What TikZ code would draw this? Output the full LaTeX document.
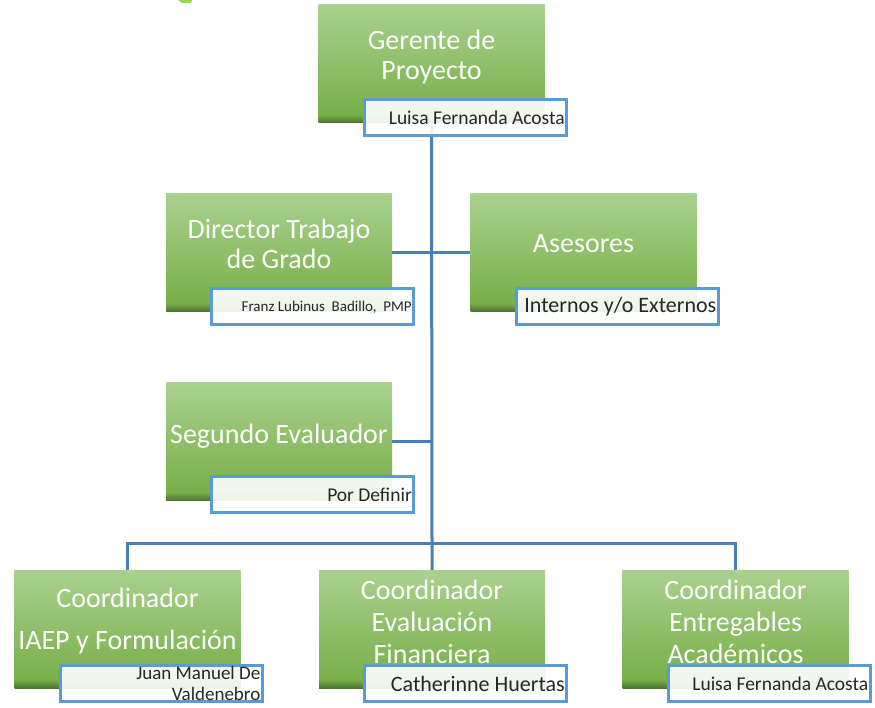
\documentclass[tikz,border=0pt]{standalone}
\usepackage{fontspec}
\setmainfont{Carlito}
\definecolor{gtop}{HTML}{A9D18F}
\definecolor{gbot}{HTML}{78AF49}
\definecolor{gdk}{HTML}{4B7230}
\definecolor{connc}{HTML}{4A7EBB}
\definecolor{nbord}{HTML}{5B9BD5}
\definecolor{limec}{HTML}{9AD84A}
\pgfdeclareverticalshading{gshade}{100bp}{color(0bp)=(gdk); color(25bp)=(gdk); color(28.5bp)=(gbot); color(75bp)=(gtop); color(100bp)=(gtop)}
\begin{document}
\begin{tikzpicture}[x=1pt,y=-1pt,
  gbox/.style={rectangle, inner sep=0pt, minimum width=226pt, minimum height=118pt, shading=gshade},
  nbox/.style={rectangle, inner sep=0pt, minimum width=202pt, minimum height=36pt, draw=nbord, line width=3pt, fill=white, fill opacity=0.9},
  gtext/.style={text=white, align=center, inner sep=0pt, font=\fontsize{28}{30.5}\selectfont},
  ntext/.style={text=black!85, anchor=east, inner sep=0pt, xshift=-3pt, align=right},
  conn/.style={draw=connc, line width=3pt}
]
\useasboundingbox (0,0) rectangle (875,708);
\fill[limec] (178,0) -- (192,0) -- (191,3) -- (182,3) -- cycle;

% green boxes
\node[gbox] (ger) at (431.5,64) {};
\node[gbox] (dir) at (279,252.5) {};
\node[gbox] (ase) at (583.5,252.5) {};
\node[gbox] (seg) at (279,441.5) {};
\node[gbox] (c1) at (127.5,629) {};
\node[gbox] (c2) at (432,629) {};
\node[gbox] (c3) at (735.5,629) {};

% connectors
\coordinate (bus) at (432,543);
\draw[conn] (ger.south) -- (bus) -- (c2.north);
\draw[conn] (dir.east) -- (ase.west);
\draw[conn] (seg.east) -- (seg.east -| ger.south);
\draw[conn] (c1.north) |- (bus) -| (c3.north);

% texts
\node[gtext] (gerT) at (431.5,57) {Gerente de\\Proyecto};
\node[gtext] (dirT) at (279,244) {Director Trabajo\\de Grado};
\node[gtext] (aseT) at (583.5,244) {Asesores};
\node[gtext] (segT) at (279,436) {Segundo Evaluador};
\node[gtext] (c1T) at (127.5,621) {Coordinador\\[11pt]IAEP y Formulación};
\node[gtext, font=\fontsize{28}{32}\selectfont] (c2T) at (432,622) {Coordinador\\Evaluación\\Financiera};
\node[gtext, font=\fontsize{28}{32}\selectfont] (c3T) at (735.5,622) {Coordinador\\Entregables\\Académicos};

% name boxes
\node[nbox] (gerN) at (465.5,117.5) {};
\node[nbox] (dirN) at (312.5,307) {};
\node[nbox] (aseN) at (617,307) {};
\node[nbox] (segN) at (312.5,494.5) {};
\node[nbox] (c1N) at (161,683.5) {};
\node[nbox] (c2N) at (465.5,683.5) {};
\node[nbox] (c3N) at (769,683.5) {};

\node[ntext, font=\fontsize{19.5}{20}\selectfont] (gerNT) at (gerN.east) {Luisa Fernanda Acosta};
\node[ntext, font=\fontsize{15}{16}\selectfont] (dirNT) at (dirN.east) {Franz Lubinus\ \ Badillo,\ \ PMP};
\node[ntext, font=\fontsize{22}{23}\selectfont] (aseNT) at (aseN.east) {Internos y/o Externos};
\node[ntext, font=\fontsize{19.5}{21}\selectfont] (segNT) at (segN.east) {Por Definir};
\node[ntext, font=\fontsize{19}{20.5}\selectfont] (c1NT) at (c1N.east) {Juan Manuel De\\Valdenebro};
\node[ntext, font=\fontsize{22}{23}\selectfont] (c2NT) at (c2N.east) {Catherinne Huertas};
\node[ntext, font=\fontsize{19.5}{20}\selectfont] (c3NT) at (c3N.east) {Luisa Fernanda Acosta};
\end{tikzpicture}
\end{document}
